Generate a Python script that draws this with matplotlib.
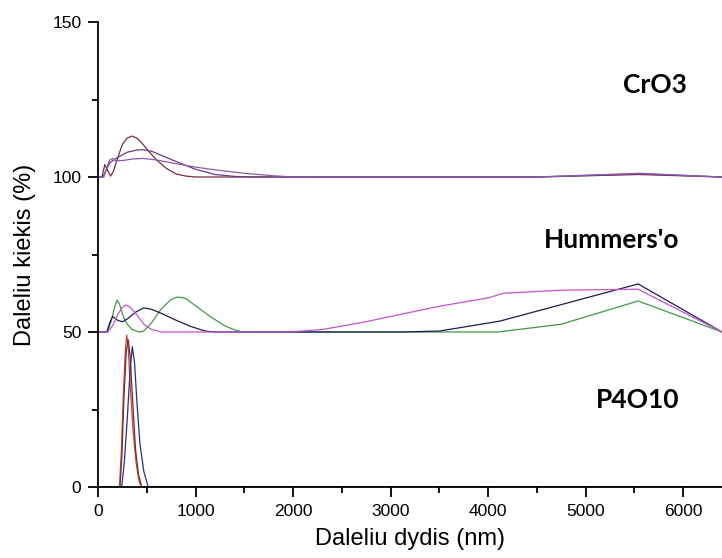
import matplotlib.pyplot as plt
from matplotlib.ticker import MultipleLocator

# particle size distributions, heights above each sample's baseline (%)
# CrO3 sample, baseline 100
cro3_a_x = [0, 40, 70, 100, 130, 160, 200, 250, 300, 350, 400, 450, 500, 600, 700, 800, 900, 1000, 4500, 5550, 6400]
cro3_a_y = [0, 0, 4, 2, 0.3, 2, 6, 10.5, 12.6, 13.2, 12.5, 11, 9, 5.5, 2.8, 1, 0.3, 0, 0, 0.8, 0]
cro3_b_x = [0, 50, 80, 120, 160, 200, 300, 400, 460, 550, 650, 800, 1000, 1200, 1400, 1600, 4500, 5550, 6400]
cro3_b_y = [0, 0, 2, 4.5, 5.5, 6.3, 8, 8.7, 8.8, 8.3, 7, 5, 2.5, 0.8, 0.2, 0, 0, 1, 0]
cro3_c_x = [0, 60, 90, 120, 150, 180, 250, 350, 460, 600, 800, 1000, 1200, 1500, 1800, 2000, 4500, 5550, 6400]
cro3_c_y = [0, 0, 3, 5.5, 6, 5.2, 5.3, 5.8, 6, 5.5, 4.3, 3.2, 2.3, 1.2, 0.4, 0, 0, 1.2, 0]

# Hummers'o sample, baseline 50
hum_g_x = [0, 100, 140, 170, 195, 220, 260, 300, 350, 420, 470, 550, 650, 750, 820, 900, 1000, 1150, 1300, 1400, 1480, 4100, 4750, 5540, 6400]
hum_g_y = [0, 0, 4, 8, 10.3, 9, 5, 2.5, 0.8, 0, 0.3, 3, 7.5, 10.5, 11.3, 10.8, 8.5, 5, 2, 0.7, 0, 0, 2.5, 10, 0]
hum_n_x = [0, 90, 120, 150, 200, 250, 300, 380, 470, 550, 650, 800, 950, 1100, 1200, 3100, 3500, 4120, 5540, 6400]
hum_n_y = [0, 0, 3, 5, 3.8, 3.3, 4.2, 6.3, 7.8, 7.3, 6, 3.8, 1.8, 0.3, 0, 0, 0.3, 3.5, 15.5, 0]
hum_m_x = [0, 100, 150, 200, 250, 290, 330, 400, 470, 550, 650, 1950, 2300, 2700, 3000, 3500, 4000, 4160, 4770, 5540, 6400]
hum_m_y = [0, 0, 2, 5.5, 8, 8.7, 8, 5.5, 2.5, 0.8, 0, 0, 0.8, 3, 5, 8.3, 11, 12.5, 13.5, 13.8, 0]

# P4O10 sample, baseline 0
p4_r_x = [0, 220, 240, 260, 280, 295, 310, 330, 360, 390, 420, 445, 6400]
p4_r_y = [0, 0, 12, 30, 44, 49, 45, 33, 18, 8, 2, 0, 0]
p4_d_x = [0, 225, 245, 265, 290, 310, 330, 355, 385, 415, 450, 6400]
p4_d_y = [0, 0, 10, 28, 44, 47.5, 42, 28, 12, 4, 0, 0]
p4_n_x = [0, 243, 270, 300, 330, 352, 375, 400, 430, 470, 515, 6400]
p4_n_y = [0, 0, 8, 22, 38, 45.3, 40, 27, 14, 5, 0, 0]

groups = [
    (100, [(cro3_a_x, cro3_a_y, "#7a2e3e"), (cro3_b_x, cro3_b_y, "#6b3a8c"), (cro3_c_x, cro3_c_y, "#8c5aac")]),
    (50, [(hum_g_x, hum_g_y, "#3f9a45"), (hum_n_x, hum_n_y, "#1c1c55"), (hum_m_x, hum_m_y, "#c355cf")]),
    (0, [(p4_r_x, p4_r_y, "#c8463c"), (p4_d_x, p4_d_y, "#7a2a20"), (p4_n_x, p4_n_y, "#26308a")]),
]
labels = ["CrO3", "Hummers'o", "P4O10"]

fig = plt.figure(figsize=(7.22, 5.58), dpi=100)
ax = fig.add_axes([98 / 722, 71 / 558, 624 / 722, 465 / 558])

for base, curves in groups:
    for xs, ys, col in curves:
        ax.plot(xs, [base + v for v in ys], color=col, lw=0.9)

ax.set_xlim(0, 6400)
ax.set_ylim(0, 150)
ax.spines["top"].set_visible(False)
ax.spines["right"].set_visible(False)
ax.spines["left"].set_linewidth(1.3)
ax.spines["bottom"].set_linewidth(1.3)
ax.xaxis.set_major_locator(MultipleLocator(1000))
ax.xaxis.set_minor_locator(MultipleLocator(500))
ax.yaxis.set_major_locator(MultipleLocator(50))
ax.yaxis.set_minor_locator(MultipleLocator(25))
ax.tick_params(which="major", length=7, width=1.3, labelsize=12.5, direction="out", pad=5)
ax.tick_params(which="minor", length=4, width=1.3, direction="out")
for t in ax.get_xticklabels() + ax.get_yticklabels():
    t.set_fontfamily("Liberation Sans")

ax.set_xlabel("Daleliu dydis (nm)", fontsize=17, family="Liberation Sans", labelpad=7)
ax.set_ylabel("Daleliu kiekis (%)", fontsize=17, family="Liberation Sans", labelpad=12)

# sample names
for lab, (px, py) in zip(labels, [(655, 85), (612, 240), (638, 400)]):
    fig.text(px / 722, 1 - py / 558, lab, fontsize=19, fontweight="bold",
             family="Lato", ha="center", va="center")

fig.savefig("out.png", dpi=100)
